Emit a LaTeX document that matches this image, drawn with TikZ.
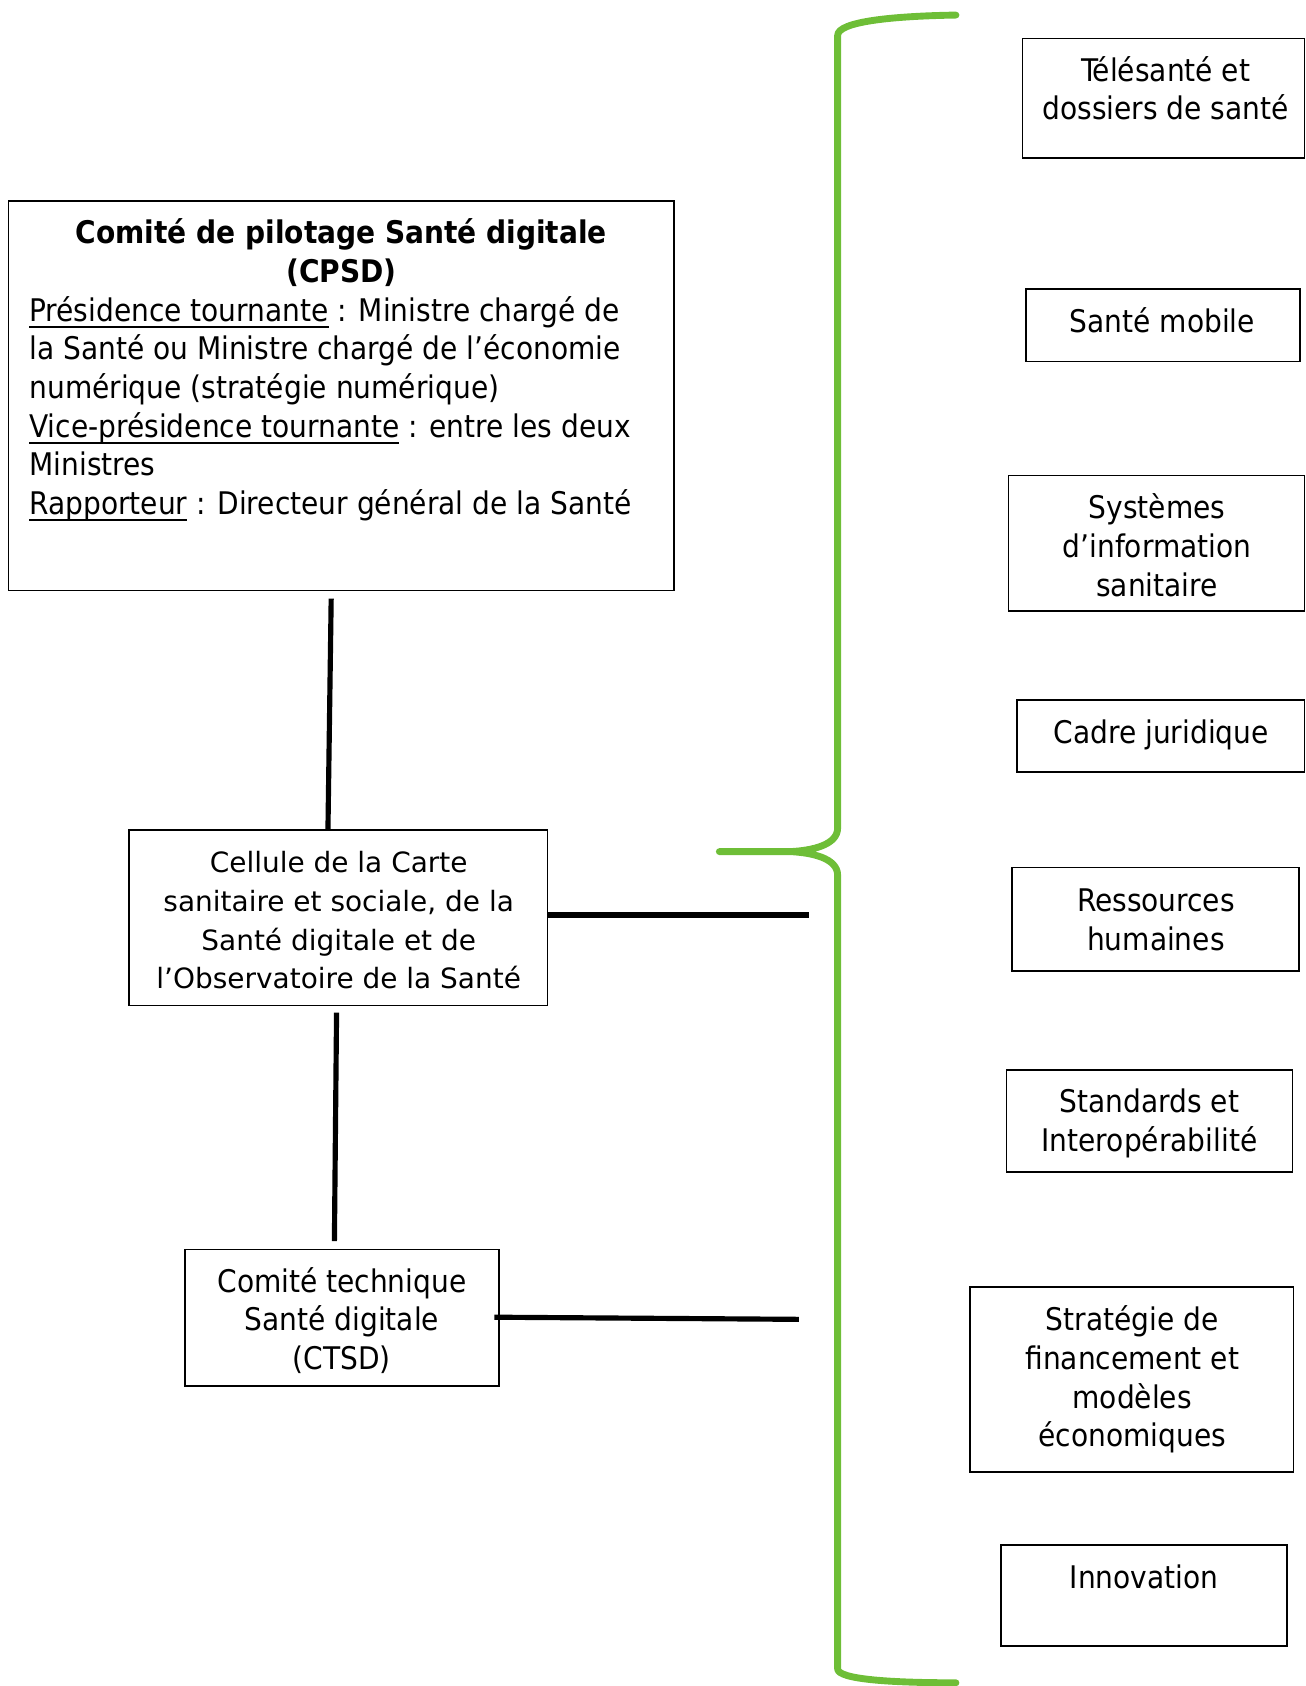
\documentclass[tikz,border=0pt]{standalone}
\usepackage{fontspec}
\setmainfont{DejaVu Sans Condensed}
\newfontfamily\verdfont{DejaVu Sans}
\usetikzlibrary{calc,fit}
\definecolor{bracegreen}{RGB}{110,190,55}
\newcommand\myul[1]{\setbox0\hbox{#1}\rlap{\rule[-3pt]{\wd0}{0.8pt}}\box0\relax}
\begin{document}
\begin{tikzpicture}[x=0.5pt,y=-0.5pt,
  box/.style={draw=black,line width=0.7pt,inner sep=0pt},
  txt/.style={inner sep=0pt,anchor=north,align=center,font=\fontsize{14.5pt}{18pt}\selectfont},
  conn/.style={line width=2.4pt,black},
  brace/.style={line width=3.2pt,draw=bracegreen,line cap=round,line join=round}]
\useasboundingbox (0,0) rectangle (1214,1568);

% left boxes
\node[box,fit={(8,187)(627,549)}] (cpsd) {};
\node[txt,font={\fontsize{14.5pt}{18pt}\selectfont\bfseries}] (cpsdT) at (317.5,201) {\strut Comité de pilotage Santé digitale\\(CPSD)};
\node[txt,anchor=north west,align=left] (cpsdB) at (27,273) {\strut\myul{Présidence tournante} : Ministre chargé de\\la Santé ou Ministre chargé de l’économie\\numérique (stratégie numérique)\\\myul{Vice-présidence tournante} : entre les deux\\Ministres\\\myul{Rapporteur} : Directeur général de la Santé};

\node[box,fit={(120,772)(509,935)}] (cell) {};
\node[txt,font={\verdfont\fontsize{13pt}{18pt}\selectfont}] (cellT) at (315,786) {\strut Cellule de la Carte\\sanitaire et sociale, de la\\Santé digitale et de\\l’Observatoire de la Santé};

\node[box,fit={(172,1162)(464,1289)}] (ctsd) {};
\node[txt] (ctsdT) at (318,1176) {\strut Comité technique\\Santé digitale\\(CTSD)};

% right boxes
\node[box,fit={(951,36)(1213,147)}] (b1) {};
\node[txt] (b1T) at (1084,50) {\strut Télésanté et\\dossiers de santé};
\node[box,fit={(954,269)(1209,336)}] (b2) {};
\node[txt] (b2T) at (1081,284) {\strut Santé mobile};
\node[box,fit={(938,442)(1213,568)}] (b3) {};
\node[txt] (b3T) at (1076,457) {\strut Systèmes\\d’information\\sanitaire};
\node[box,fit={(946,651)(1213,718)}] (b4) {};
\node[txt] (b4T) at (1080,666) {\strut Cadre juridique};
\node[box,fit={(941,807)(1208,903)}] (b5) {};
\node[txt] (b5T) at (1075,822) {\strut Ressources\\humaines};
\node[box,fit={(936,995)(1202,1090)}] (b6) {};
\node[txt] (b6T) at (1069,1009) {\strut Standards et\\Interopérabilité};
\node[box,fit={(902,1197)(1203,1369)}] (b7) {};
\node[txt] (b7T) at (1053,1212) {\strut Stratégie de\\financement et\\modèles\\économiques};
\node[box,fit={(931,1437)(1197,1531)}] (b8) {};
\node[txt] (b8T) at (1064,1452) {\strut Innovation};

% connectors
\coordinate (e1) at (752,851);
\coordinate (e2) at (743,1227);
\draw[conn] ($(cpsd.south)+(-9.5,7)$) -- ($(cell.north)+(-9.5,0)$);
\draw[conn] ($(cell.south)+(-1.5,6)$) -- ($(ctsd.north)+(-7,-7)$);
\draw[conn] ($(cell.east)+(0,-2.5)$) -- (e1);
\draw[conn] ($(ctsd.east)+(-5,-0.5)$) -- (e2);

% green brace
\coordinate (tip) at (669,792);
\draw[brace] (889,14) .. controls (830,15) and (779,20) .. (779,33)
  -- (779,770) .. controls (779,786) and (755,791) .. (735,792) -- (tip)
  (735,792) .. controls (755,793) and (779,798) .. (779,814)
  -- (779,1552) .. controls (779,1562) and (830,1565) .. (889,1565);
\end{tikzpicture}
\end{document}
